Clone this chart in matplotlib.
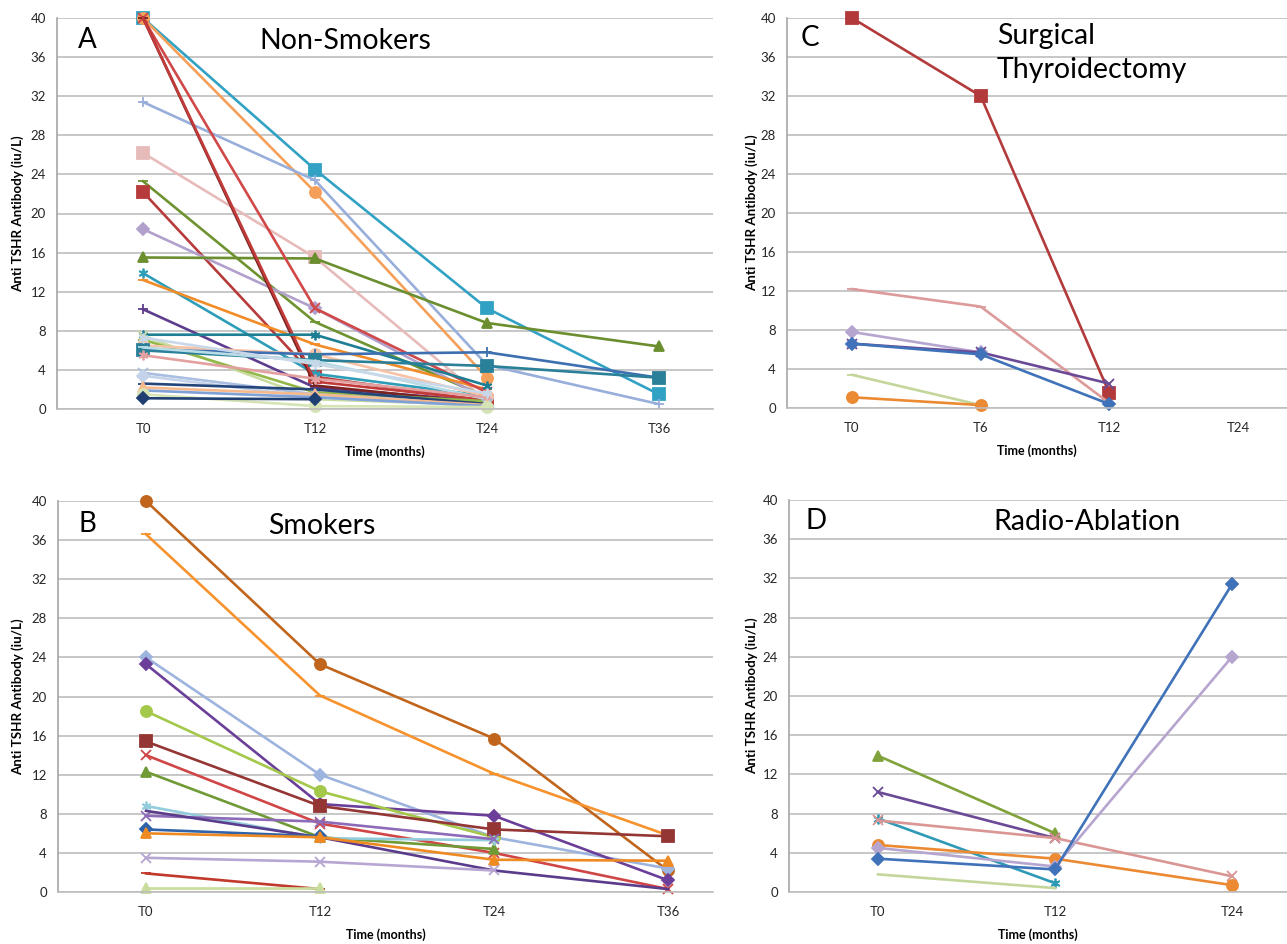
import numpy as np
import matplotlib
matplotlib.use("Agg")
import matplotlib.pyplot as plt

plt.rcParams['font.family'] = ['Lato', 'DejaVu Sans']

nan = np.nan
STAR = (6, 2, 0)

# ---- data -------------------------------------------------------------
cats_a = ["T0", "T12", "T24", "T36"]
vals_a = [
    [40, 24.5, 10.3, 1.5],
    [40, 22.2, 3.2, nan],
    [31.4, 23.4, 4.5, 0.5],
    [26.2, 15.5, 0.8, nan],
    [23.3, 8.9, 1.2, nan],
    [22.2, 3.3, 0.8, nan],
    [18.4, 10.3, 1.0, nan],
    [15.5, 15.4, 8.8, 6.4],
    [13.9, 3.6, 1.3, nan],
    [13.2, 6.6, 2.0, nan],
    [10.2, 2.2, 0.8, nan],
    [40, 10.3, 1.7, nan],
    [40, 2.4, 0.6, nan],
    [40, 2.8, 0.9, nan],
    [7.6, 7.6, 2.4, nan],
    [7.5, 1.0, 0.4, nan],
    [7.1, 1.7, 0.8, nan],
    [6.5, 5.6, 1.3, nan],
    [6.1, 5.6, 5.8, 3.2],
    [6.0, 5.0, 4.4, 3.2],
    [6.3, 4.9, 1.0, nan],
    [5.5, 3.1, 1.2, nan],
    [7.3, 4.6, 1.6, nan],
    [3.7, 1.5, 0.5, nan],
    [3.4, 1.2, 0.3, nan],
    [2.6, 2.0, 0.5, nan],
    [2.2, 1.5, 0.4, nan],
    [1.9, 1.2, 0.3, nan],
    [1.5, 0.3, 0.2, nan],
    [1.1, 1.0, nan, nan],
]
colors_a = ['#31A2C4', '#F5A05A', '#98AEDB', '#E8BBBB', '#6E9330', '#B83B3B',
            '#B1A0CC', '#6B8E2F', '#2E9DB8', '#F28C28', '#5E3D8F', '#D04848',
            '#7A2321', '#C23B3B', '#1E7F94', '#C9DCA0', '#93B84A', '#F6C3A6',
            '#3E6FB0', '#2A7F99', '#B8DCE6', '#E3A0A0', '#C9D8E8', '#A9BEE0',
            '#C5D3EA', '#24457A', '#F7B98C', '#7FA1D6', '#D5E3B5', '#1F3F73']
markers_a = ['s', 'o', '+', 's', '_', 's', 'D', '^', STAR, '_', '+', 'x',
             '_', None, STAR, 'x', '_', 'o', '+', 's', '_', STAR, STAR, 'x',
             'D', '_', '^', None, 'o', 'D']

cats_b = ["T0", "T12", "T24", "T36"]
vals_b = [
    [40, 23.3, 15.7, 2.2],
    [36.6, 20.1, 12.1, 5.8],
    [24.0, 12.0, 5.6, 2.4],
    [23.3, 9.0, 7.8, 1.2],
    [18.5, 10.3, 5.6, nan],
    [15.4, 8.8, 6.4, 5.7],
    [14.0, 7.0, 4.0, 0.3],
    [12.3, 5.6, 4.4, nan],
    [8.8, 5.5, 5.3, nan],
    [7.8, 7.2, 5.4, nan],
    [8.3, 5.6, 2.2, 0.3],
    [6.4, 5.7, nan, nan],
    [6.0, 5.6, 3.3, 3.2],
    [3.5, 3.1, 2.2, nan],
    [1.9, 0.3, nan, nan],
    [0.4, 0.4, nan, nan],
]
colors_b = ['#C0651B', '#F7922D', '#9DB4DE', '#6B3F99', '#A3C84A', '#943634',
            '#D04545', '#6F9A35', '#93CDDD', '#8E6BB8', '#5B3C8C', '#2F62A8',
            '#EF8A22', '#B7A6D2', '#C0392B', '#C8DD9C']
markers_b = ['o', '_', 'D', 'D', 'o', 's', 'x', '^', STAR, 'x', None, 'D',
             '^', 'x', '_', '^']

cats_c = ["T0", "T6", "T12", "T24"]
vals_c = [
    [40, 32, 1.5, nan],
    [12.2, 10.4, 0.5, nan],
    [7.8, 5.7, nan, nan],
    [6.6, 5.7, 2.5, nan],
    [6.6, 5.5, 0.4, nan],
    [3.4, 0.3, nan, nan],
    [1.1, 0.3, nan, nan],
]
colors_c = ['#B33A3A', '#DC9A9A', '#B6A5CF', '#6A4A96', '#3F72B8', '#C3D69B', '#EC8A33']
markers_c = ['s', '_', 'D', 'x', 'D', '_', 'o']

cats_d = ["T0", "T12", "T24"]
vals_d = [
    [13.9, 6.0, nan],
    [10.2, 5.5, nan],
    [7.5, 0.9, nan],
    [7.3, 5.5, 1.6],
    [4.8, 3.4, 0.7],
    [4.5, 2.6, 24.0],
    [3.4, 2.3, 31.4],
    [1.8, 0.4, nan],
]
colors_d = ['#7FA23A', '#6A4A96', '#2E9AB5', '#D99694', '#EC8A33', '#B6A5CF', '#3F72B8', '#C3D69B']
markers_d = ['^', 'x', STAR, 'x', 'o', 'D', 'D', None]

# ---- layout -----------------------------------------------------------
W, H = 1287, 944
fig = plt.figure(figsize=(W / 100, H / 100), dpi=100)


def panel(box, t0, step, cats, vals, colors, markers, letter, title, title_xy, ylab_x):
    l, t, r, b = box
    ax = fig.add_axes([l / W, 1 - b / H, (r - l) / W, (b - t) / H])
    x = np.arange(len(cats))
    for v, c, m in zip(vals, colors, markers):
        v = np.array(v, dtype=float)
        ms = 8 if m in ('s', 'o') else 7
        if m == 'D':
            ms = 6.5
        ax.plot(x, v, color=c, lw=1.9, marker=m, ms=ms, mew=1.3,
                clip_on=False)
    ax.set_xlim((l - t0) / step, (r - t0) / step)
    ax.set_ylim(0, 40)
    ax.set_yticks(range(0, 41, 4))
    ax.set_xticks(x)
    ax.set_xticklabels(cats)
    ax.grid(axis='y', color='#BDBDBD', lw=1.2)
    ax.set_axisbelow(True)
    for s in ('top', 'right'):
        ax.spines[s].set_visible(False)
    ax.spines['left'].set_color('#A6A6A6')
    ax.spines['bottom'].set_color('#BDBDBD')
    ax.spines['left'].set_linewidth(1.2)
    ax.spines['bottom'].set_linewidth(1.2)
    ax.tick_params(length=0, labelsize=9.5, colors='#262626')
    ax.tick_params(axis='x', pad=10)
    ax.tick_params(axis='y', pad=8)
    ax.set_xlabel("Time (months)", fontsize=9, fontweight='bold')
    ax.xaxis.set_label_coords(0.5, -(43 / (b - t)))
    ax.set_ylabel("Anti TSHR Antibody (iu/L)", fontsize=9.6, fontweight='bold')
    ax.yaxis.set_label_coords((ylab_x - l) / (r - l), 0.5)
    ax.xaxis.label.set_va('center')
    ax.yaxis.label.set_va('center')
    fig.text(letter[1] / W, 1 - letter[2] / H, letter[0], fontsize=20,
             ha='center', va='center')
    ha = 'left' if '\n' in title else 'center'
    fig.text(title_xy[0] / W, 1 - title_xy[1] / H, title, fontsize=20.5,
             ha=ha, va='center', linespacing=1.35)
    return ax


panel((57, 18, 713, 409), 143, 172, cats_a, vals_a, colors_a, markers_a,
      ("A", 87, 40), "Non-Smokers", (345, 41), 18)
panel((58, 501, 713, 892), 146, 174, cats_b, vals_b, colors_b, markers_b,
      ("B", 87, 524), "Smokers", (322, 526), 18)
panel((787, 18, 1287, 408), 852, 128.7, cats_c, vals_c, colors_c, markers_c,
      ("C", 810, 38), "Surgical\nThyroidectomy", (997, 53), 752)
panel((789, 500, 1287, 892), 878, 177, cats_d, vals_d, colors_d, markers_d,
      ("D", 816, 521), "Radio-Ablation", (1087, 522), 752)

fig.savefig("out.png", dpi=100)
